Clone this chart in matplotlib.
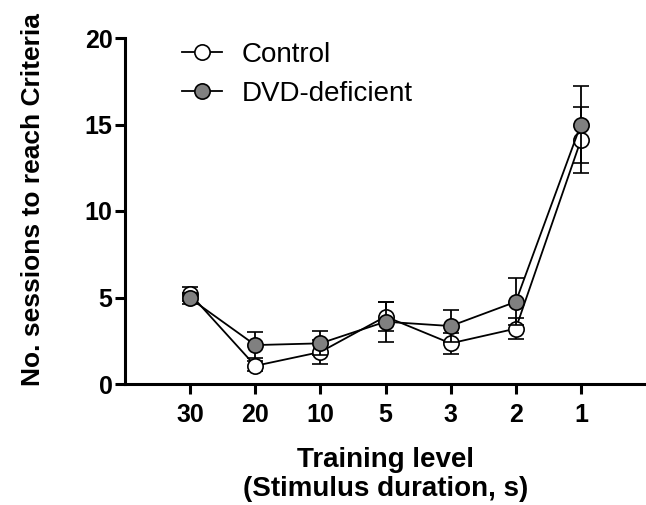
import matplotlib
matplotlib.use("Agg")
import matplotlib.pyplot as plt
from matplotlib.lines import Line2D

plt.rcParams['font.family'] = ['Liberation Sans', 'DejaVu Sans']

levels = ['30', '20', '10', '5', '3', '2', '1']
control_mean = [5.2, 1.05, 1.85, 3.9, 2.35, 3.2, 14.1]
control_err = [0.4, 0.3, 0.7, 0.85, 0.6, 0.6, 1.9]
dvd_mean = [4.95, 2.25, 2.35, 3.6, 3.35, 4.75, 15.0]
dvd_err = [0.3, 0.75, 0.7, 1.15, 0.95, 1.35, 2.2]

x = list(range(1, len(levels) + 1))

fig = plt.figure(figsize=(6.46, 5.05), dpi=100)
ax = fig.add_axes([125 / 646, 1 - 384 / 505, 521 / 646, 346 / 505])

style = dict(fmt='-o', color='black', mec='black', ms=11, mew=1.2, lw=1.3,
             elinewidth=1.3, capsize=6, capthick=1.3)
ax.errorbar(x, control_mean, yerr=control_err, mfc='white', zorder=3, **style)
ax.errorbar(x, dvd_mean, yerr=dvd_err, mfc='#808080', zorder=4, **style)

ax.set_xlim(0, 8)
ax.set_ylim(0, 20)
ax.set_xticks(x)
ax.set_xticklabels(levels)
ax.set_yticks([0, 5, 10, 15, 20])

for s in ['top', 'right']:
    ax.spines[s].set_visible(False)
for s in ['left', 'bottom']:
    ax.spines[s].set_linewidth(2.2)
ax.tick_params(width=2.2, length=7.5, labelsize=18)
ax.tick_params(axis='x', pad=6)
ax.tick_params(axis='y', pad=1.5)
for lab in ax.get_xticklabels() + ax.get_yticklabels():
    lab.set_fontweight('bold')

fig.text(33 / 646, 1 - 200 / 505, 'No. sessions to reach Criteria', rotation=90,
         ha='center', va='center', fontsize=19, fontweight='bold')
ax.set_xlabel('Training level\n(Stimulus duration, s)', fontsize=20, fontweight='bold',
              linespacing=1.15)
ax.xaxis.set_label_coords(0.5, -0.183)

handles = [
    Line2D([], [], color='black', lw=1.3, marker='o', ms=11, mew=1.2, mfc='white', mec='black'),
    Line2D([], [], color='black', lw=1.3, marker='o', ms=11, mew=1.2, mfc='#808080', mec='black'),
]
ax.legend(handles, ['Control', 'DVD-deficient'], loc='upper left',
          bbox_to_anchor=(171 / 646, 1 - 31 / 505), bbox_transform=fig.transFigure,
          borderaxespad=0, frameon=False, fontsize=20, handlelength=1.44,
          handletextpad=0.72, labelspacing=0.45)

fig.savefig('out.png', dpi=100)
